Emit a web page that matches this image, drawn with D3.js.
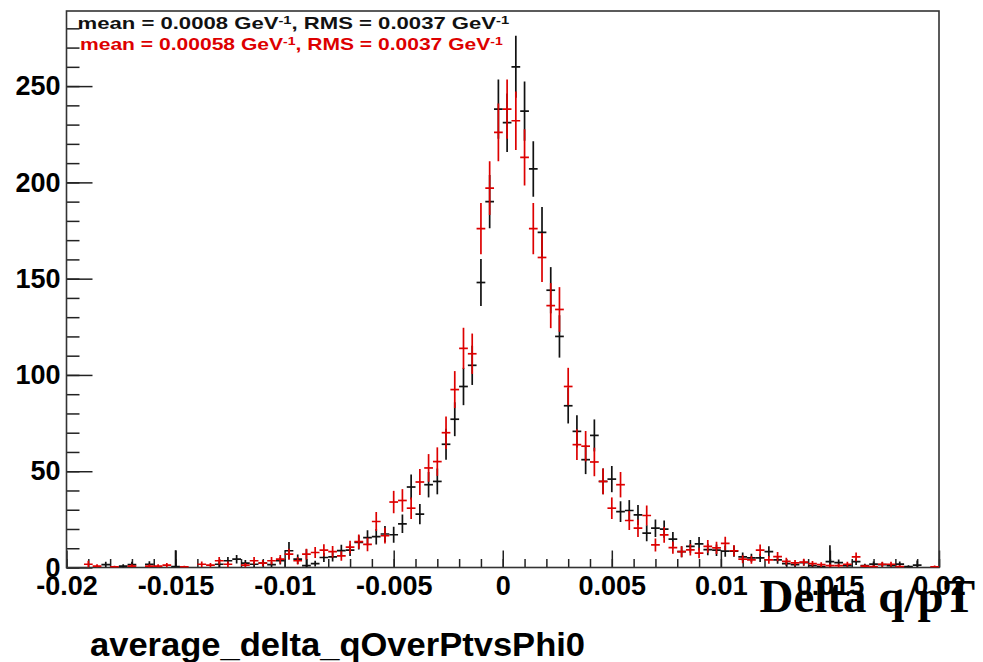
<!DOCTYPE html>
<html><head><meta charset="utf-8">
<script src="https://cdn.jsdelivr.net/npm/d3@7"></script>
<style>body{margin:0;background:#fff;} svg{display:block;}</style>
</head><body>
<svg id="c" width="983" height="662"></svg>
<script>
// Histogram binning
const binLow = -0.02, binWidth = 0.0004;
// Series 1 (black)
const blackValues = [0,0,0,0,1.5,0,0.7,1.5,0,1.7, 0,0,0.5,0,0,0,0,1.7,3.5,4.3, 2.3,1.7,2.3,1.5,3.5,8.7,4.3,1.0,2.0,5.2,
  5.5,8.8,9,13,15.5,16,17.4,17,22.7,41.8, 27.7,43,44.7,64,77,94,105,148,190,238,
  231,260,237,207,174,144,120,84,70.7,56, 68.6,44.7,45.9,29,29.6,27.3,17.8,20.4,19.9,14.7,
  8.2,11,12.3,9.3,9,8.5,8.5,5.5,5,5, 8.2,4,2,1.5,2.5,1,0.5,3,2.5,1, 3,1,1.8,1.5,1,1.8,0.5,1.2,0,0];
const blackErrors = [0,0,0,0,1.5,0,1,1.5,0,1.5, 0,0,8.5,0,0,0,0,1.5,2,2.2, 1.6,1.4,1.6,1.3,2,4.5,2.5,8.5,1.5,2.3,
  2.4,3,3,3.6,3.9,4,4.2,4.1,4.8,6.5, 5.3,6.6,6.7,8,8.8,9.7,10.2,12.2,13.8,15.4,
  15.2,16.1,15.4,14.4,13.2,12,11,9.2,8.4,7.5, 8.3,6.7,6.8,5.4,5.4,5.2,4.2,4.5,4.5,3.8,
  2.9,3.3,3.5,3,3,2.9,2.9,2.3,2.2,2.2, 2.9,2,1.4,1.2,1.6,1,0.7,8.5,1.6,1, 1.7,1,1.3,1.2,1,1.3,0.7,2.5,0,0];
// Series 2 (red)
const redValues = [0,0,1.7,0.7,0,0.3,0,0.7,0,0.7, 0.7,1.2,0,0.3,0,1.7,1.2,3.5,1.7,0, 1.2,3.5,2.3,3.5,4.3,6.9,3.5,6.9,7.8,9,
  8.2,6,10.6,13.4,12,23.9,16.5,34,34.8,30.8, 44.4,51.7,55,70,92.4,113.8,111,176,197,226,
  238,232,213,176,161,136,134,94,63.8,63, 54.8,44.7,30.8,43,24.4,20.4,27,11.7,16.9,10.3,
  8.2,9.2,7.5,11,10.2,12.5,8.7,4.3,4,9, 4,5.6,3.2,2.4,2.8,2,1.5,1,1,1.7, 5.5,0.7,0.5,1.7,1.7,0.5,0,0,0,0.4];
const redErrors = [0,0,1.8,1,0,0.6,0,1,0,1, 1,1.2,0,0.6,0,1.4,1.2,2,1.4,0, 1.2,2,1.6,2,2.2,2.8,2,2.8,2.9,3.1,
  3,2.5,3.3,3.7,3.5,4.9,4.1,5.8,5.9,5.6, 6.7,7.2,7.4,8.4,9.6,10.7,10.5,13.3,14,15,
  15.4,15.2,14.6,13.3,12.7,11.7,11.6,9.7,8,7.9, 7.4,6.7,5.6,6.6,4.9,4.5,5.2,3.4,4.1,3.2,
  2.9,3,2.7,3.3,3.2,3.5,2.9,2.1,2,3, 2,2.4,1.8,1.5,1.7,1.4,1.2,1,1,1.3, 2.3,0.8,0.7,1.3,1.3,0.7,0,0,0,0.6];
// Ticks and labels
const xTickValues = [-0.02,-0.015,-0.01,-0.005,0,0.005,0.01,0.015,0.02];
const xTickLabels = ["-0.02","-0.015","-0.01","-0.005","0","0.005","0.01","0.015","0.02"];
const yTickValues = [0,50,100,150,200,250];
const yTickLabels = ["0","50","100","150","200","250"];
const statMeans = ["0.0008","0.00058"];
const statRMS = ["0.0037","0.0037"];
const seriesColors = ["#111111","#dd0000"];
const xTitle = "Delta q/pT";
const histTitle = "average_delta_qOverPtvsPhi0";

const svg = d3.select("#c");
const L = 66.5, R = 939, T = 11, B = 567.5;
const x = d3.scaleLinear().domain([-0.02, 0.02]).range([L, R]);
const y = d3.scaleLinear().domain([0, 289]).range([B, T]);
const tickFont = "'Liberation Sans', Arial, Helvetica, sans-serif";

svg.append("defs").append("clipPath").attr("id","pc")
  .append("rect").attr("x",L).attr("y",T).attr("width",R-L).attr("height",B-T);

// minor ticks
const xMinor = d3.range(-20, 21).map(k => k*0.001);
const yMinor = d3.range(0, 290, 10);
svg.append("g").attr("transform",`translate(0,${B})`)
  .call(d3.axisBottom(x).tickValues(xMinor).tickSize(-8.5).tickFormat(""))
  .call(g=>{g.select(".domain").remove(); g.selectAll("line").attr("stroke","#222").attr("stroke-width",1.5);});
svg.append("g").attr("transform",`translate(${L},0)`)
  .call(d3.axisLeft(y).tickValues(yMinor).tickSize(-13).tickFormat(""))
  .call(g=>{g.select(".domain").remove(); g.selectAll("line").attr("stroke","#222").attr("stroke-width",1.5);});
// major ticks + labels
svg.append("g").attr("transform",`translate(0,${B})`)
  .call(d3.axisBottom(x).tickValues(xTickValues).tickSize(-17).tickPadding(6)
        .tickFormat((d,i)=>xTickLabels[i]))
  .call(g=>{g.select(".domain").remove();
    g.selectAll("line").attr("stroke","#222").attr("stroke-width",1.5);
    g.selectAll("text").attr("font-family",tickFont).attr("font-weight","bold")
      .attr("font-size",27).attr("fill","#000").attr("dy","0.78em");});
svg.append("g").attr("transform",`translate(${L},0)`)
  .call(d3.axisLeft(y).tickValues(yTickValues).tickSize(-26).tickPadding(6)
        .tickFormat((d,i)=>yTickLabels[i]))
  .call(g=>{g.select(".domain").remove();
    g.selectAll("line").attr("stroke","#222").attr("stroke-width",1.5);
    g.selectAll("text").attr("font-family",tickFont).attr("font-weight","bold")
      .attr("font-size",27).attr("fill","#000");});

// frame
svg.append("rect").attr("x",L).attr("y",T).attr("width",R-L).attr("height",B-T)
  .attr("fill","none").attr("stroke","#333").attr("stroke-width",1.6);

// error-bar series
function drawSeries(vals, errs, color){
  const g = svg.append("g").attr("clip-path","url(#pc)").attr("stroke",color).attr("stroke-width",1.7);
  vals.forEach((v,i)=>{
    const e = errs[i];
    if (v === 0 && e === 0) return;
    const lo = binLow + i*binWidth, hi = lo + binWidth, c = lo + binWidth/2;
    g.append("line").attr("x1",x(lo)).attr("x2",x(hi)).attr("y1",y(v)).attr("y2",y(v));
    g.append("line").attr("x1",x(c)).attr("x2",x(c)).attr("y1",y(Math.max(0,v-e))).attr("y2",y(v+e));
  });
}
drawSeries(blackValues, blackErrors, seriesColors[0]);
drawSeries(redValues, redErrors, seriesColors[1]);

// stats text (horizontally stretched like the reference)
const statY = [29, 50], statX = [77.5, 80], statW = [432, 423];
statMeans.forEach((m,i)=>{
  const t = svg.append("text").attr("x",0).attr("y",0)
    .attr("font-family",tickFont).attr("font-weight","bold").attr("font-size",16.5).attr("fill",seriesColors[i]);
  t.append("tspan").text(`mean = ${m} GeV`);
  t.append("tspan").attr("font-size",11).attr("dy",-5.5).text("-1");
  t.append("tspan").attr("dy",5.5).text(`, RMS = ${statRMS[i]} GeV`);
  t.append("tspan").attr("font-size",11).attr("dy",-5.5).text("-1");
  const w = t.node().getBBox().width;
  t.attr("transform",`translate(${statX[i]},${statY[i]}) scale(${statW[i]/w},1)`);
});

// axis title
svg.append("text").attr("x",975).attr("y",612).attr("text-anchor","end")
  .attr("font-family","'Liberation Serif','Times New Roman',serif").attr("font-weight","bold")
  .attr("font-size",47).attr("fill","#000").text(xTitle);
// hist title
svg.append("text").attr("x",90).attr("y",656)
  .attr("font-family",tickFont).attr("font-weight","bold")
  .attr("font-size",34).attr("fill","#000")
  .attr("textLength",495).attr("lengthAdjust","spacingAndGlyphs").text(histTitle);
</script>
</body></html>
